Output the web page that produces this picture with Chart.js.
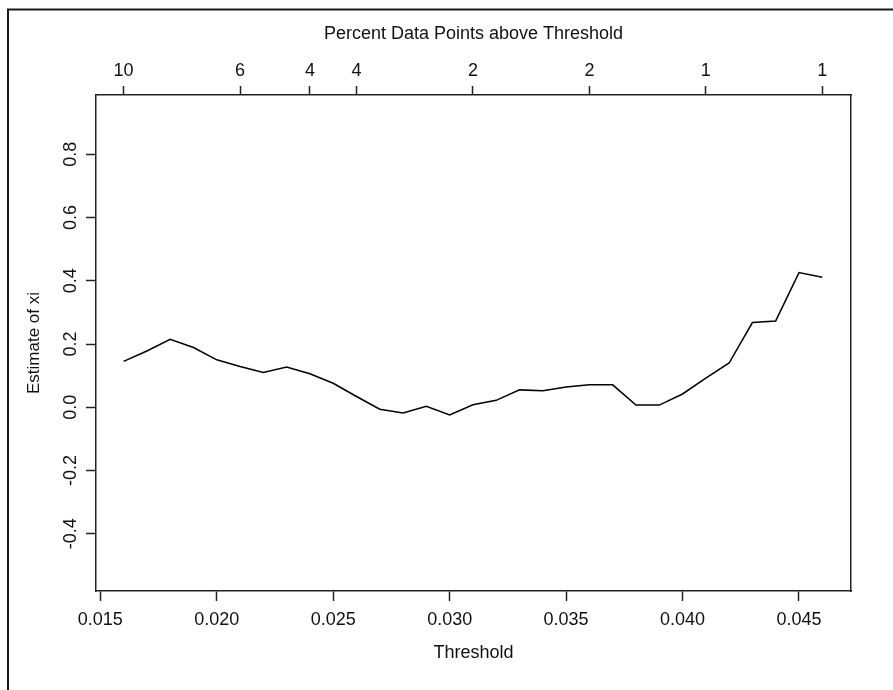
<!DOCTYPE html>
<html>
<head>
<meta charset="utf-8">
<title>Estimate of xi vs Threshold</title>
<script src="https://cdn.jsdelivr.net/npm/chart.js@4"></script>
<style>
  html, body { margin: 0; padding: 0; background: #fff; overflow: hidden; }
  #wrap { position: relative; width: 893px; height: 690px; }
</style>
</head>
<body>
<div id="wrap"><canvas id="xiChart" width="893" height="690"></canvas></div>
<script>
// thresholds and the shape estimate
const thresholds = [0.016, 0.017, 0.018, 0.019, 0.020, 0.021, 0.022, 0.023, 0.024, 0.025,
                    0.026, 0.027, 0.028, 0.029, 0.030, 0.031, 0.032, 0.033, 0.034, 0.035,
                    0.036, 0.037, 0.038, 0.039, 0.040, 0.041, 0.042, 0.043, 0.044, 0.045, 0.046];
const xiEstimates = [0.145, 0.178, 0.215, 0.189, 0.150, 0.129, 0.110, 0.127, 0.106, 0.076,
                     0.034, -0.006, -0.018, 0.003, -0.024, 0.008, 0.022, 0.055, 0.052, 0.064,
                     0.071, 0.071, 0.007, 0.007, 0.042, 0.092, 0.140, 0.268, 0.273, 0.426, 0.411];

// axis ticks
const bottomTicks = [0.015, 0.020, 0.025, 0.030, 0.035, 0.040, 0.045];
const yTicks = [-0.4, -0.2, 0.0, 0.2, 0.4, 0.6, 0.8];
const topTickValues = [0.016, 0.021, 0.024, 0.026, 0.031, 0.036, 0.041, 0.046];
const topTickLabels = ['10', '6', '4', '4', '2', '2', '1', '1'];

const FONT = 'Arial, "Liberation Sans", sans-serif';
const INK = '#111';
const AXIS = '#222';

// thin frame on the left and top edges, like the original device border
const outerFrame = {
    id: 'outerFrame',
    beforeDraw(chart) {
        const ctx = chart.ctx;
        ctx.save();
        ctx.strokeStyle = '#1a1a1a';
        ctx.lineWidth = 2;
        ctx.beginPath();
        ctx.moveTo(8, chart.height);
        ctx.lineTo(8, 9.5);
        ctx.lineTo(chart.width, 9.5);
        ctx.stroke();
        ctx.restore();
    }
};

function setTicks(values) {
    return function(scale) {
        scale.ticks = values.map(v => ({ value: v }));
    };
}

const ctx = document.getElementById('xiChart').getContext('2d');

new Chart(ctx, {
    type: 'line',
    data: {
        datasets: [{
            label: 'Estimate of xi',
            data: thresholds.map((t, i) => ({ x: t, y: xiEstimates[i] })),
            borderColor: '#000',
            borderWidth: 1.5,
            pointRadius: 0,
            tension: 0,
            fill: false,
            xAxisID: 'x',
            yAxisID: 'y'
        }]
    },
    options: {
        responsive: false,
        animation: false,
        devicePixelRatio: 1,
        layout: { padding: { left: 0, right: 42, top: 0, bottom: 0 } },
        plugins: {
            legend: { display: false },
            tooltip: { enabled: false }
        },
        scales: {
            x: {
                type: 'linear',
                position: 'bottom',
                min: 0.014815,
                max: 0.047233,
                afterBuildTicks: setTicks(bottomTicks),
                afterFit: s => { s.height = 99; },
                border: { display: true, color: AXIS, width: 1.5 },
                grid: { drawOnChartArea: false, drawTicks: true, tickLength: 10, color: AXIS, tickWidth: 1.5 },
                ticks: {
                    color: INK, padding: 8, maxRotation: 0, autoSkip: false,
                    font: { family: FONT, size: 18 },
                    callback: v => Number(v).toFixed(3)
                },
                title: {
                    display: true, text: 'Threshold', color: INK,
                    font: { family: FONT, size: 18 },
                    padding: { top: 0, bottom: 26 }
                }
            },
            x2: {
                type: 'linear',
                position: 'top',
                min: 0.014815,
                max: 0.047233,
                afterBuildTicks: setTicks(topTickValues),
                afterFit: s => { s.height = 95; },
                border: { display: true, color: AXIS, width: 1.5 },
                grid: { drawOnChartArea: false, drawTicks: true, tickLength: 9, color: AXIS, tickWidth: 1.5 },
                ticks: {
                    color: INK, padding: 4, maxRotation: 0, autoSkip: false,
                    font: { family: FONT, size: 18 },
                    callback: (v, i) => topTickLabels[i]
                },
                title: {
                    display: true, text: 'Percent Data Points above Threshold', color: INK,
                    font: { family: FONT, size: 18 },
                    padding: { top: 23, bottom: 0 }
                }
            },
            y: {
                type: 'linear',
                position: 'left',
                min: -0.581,
                max: 0.9875,
                afterBuildTicks: setTicks(yTicks),
                afterFit: s => { s.width = 96; },
                border: { display: true, color: AXIS, width: 1.5 },
                grid: { drawOnChartArea: false, drawTicks: true, tickLength: 10, color: AXIS, tickWidth: 1.5 },
                ticks: {
                    color: INK, padding: -0.5, minRotation: 90, maxRotation: 90, crossAlign: 'center', autoSkip: false,
                    font: { family: FONT, size: 18 },
                    callback: v => Number(v).toFixed(1)
                },
                title: {
                    display: true, text: 'Estimate of xi', color: INK,
                    font: { family: FONT, size: 17 },
                    padding: { top: 24, bottom: 0 }
                }
            },
            y2: {
                type: 'linear',
                position: 'right',
                min: -0.581,
                max: 0.9875,
                afterFit: s => { s.width = 0; },
                border: { display: true, color: AXIS, width: 1.5 },
                grid: { drawOnChartArea: false, drawTicks: false },
                ticks: { display: false }
            }
        }
    },
    plugins: [outerFrame]
});
</script>
</body>
</html>
